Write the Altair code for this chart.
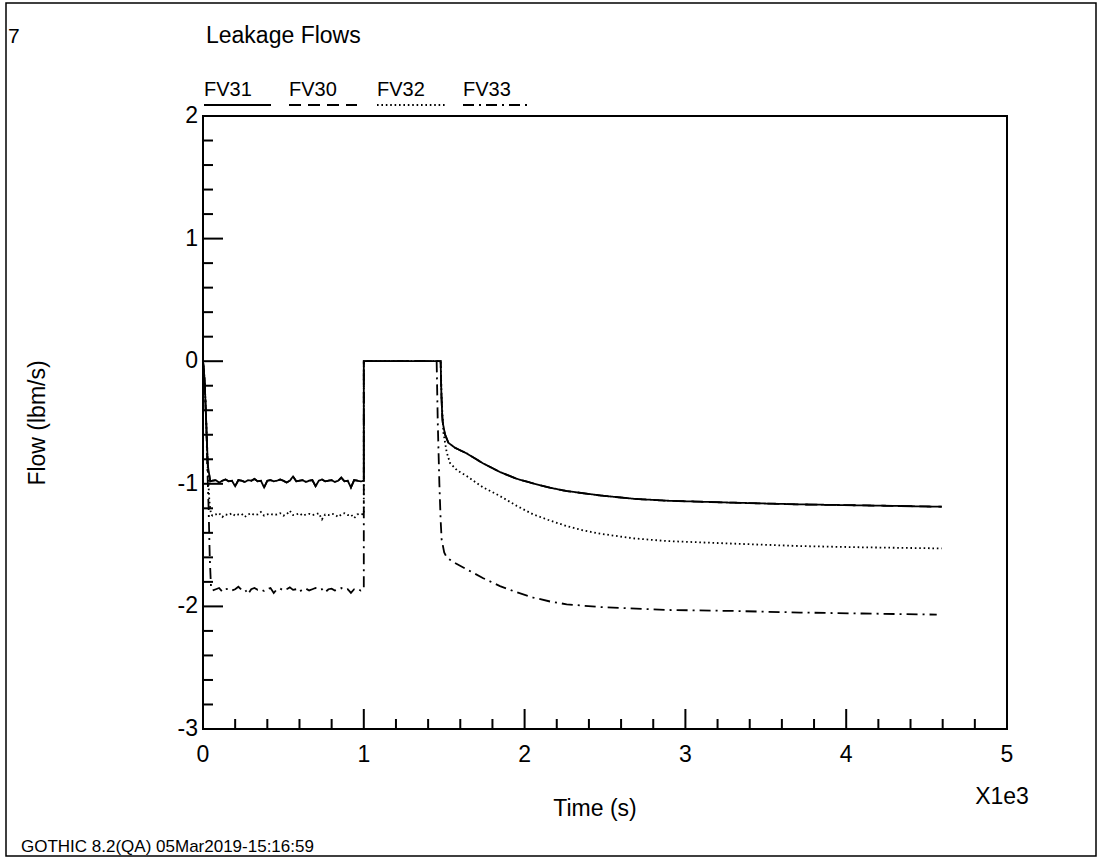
import altair as alt
import pandas as pd

# ---------------------------------------------------------------------------
# Leakage flows (lbm/s) versus time (s)
# ---------------------------------------------------------------------------
SERIES = ["FV31", "FV30", "FV32", "FV33"]

# initial drop after t = 0
FV31_START_T = [0, 10, 20, 30, 45]
FV31_START_V = [0.0, -0.15, -0.5, -0.85, -0.98]
FV32_START_T = [0, 10, 20, 30, 40, 50]
FV32_START_V = [0.0, -0.15, -0.5, -0.9, -1.15, -1.25]
FV33_START_T = [0, 10, 20, 30, 35, 42, 50]
FV33_START_V = [0.0, -0.15, -0.5, -1.0, -1.2, -1.6, -1.85]

# noisy plateau, 60 s .. 1000 s
PLATEAU_T = [60, 80, 100, 120, 140, 160, 180, 200, 220, 240,
             260, 280, 300, 320, 340, 360, 380, 400, 420, 440,
             460, 480, 500, 520, 540, 560, 580, 600, 620, 640,
             660, 680, 700, 720, 740, 760, 780, 800, 820, 840,
             860, 880, 900, 920, 940, 960, 980, 1000]
FV31_PLATEAU = [-0.975, -0.97, -0.99, -0.975, -0.965, -0.98, -0.975, -1.02, -0.97, -0.975,
                -0.985, -0.97, -0.975, -0.96, -0.98, -0.975, -1.03, -0.975, -0.97, -0.98,
                -0.975, -0.965, -0.975, -0.99, -0.975, -0.94, -0.98, -0.975, -0.97, -0.985,
                -0.975, -0.97, -1.02, -0.975, -0.965, -0.98, -0.975, -0.97, -0.985, -0.975,
                -0.95, -0.98, -0.975, -1.03, -0.97, -0.975, -0.98, -0.975]
FV32_PLATEAU = [-1.26, -1.25, -1.24, -1.27, -1.25, -1.255, -1.24, -1.26, -1.25, -1.245,
                -1.27, -1.25, -1.24, -1.255, -1.25, -1.23, -1.26, -1.25, -1.245, -1.255,
                -1.25, -1.24, -1.26, -1.25, -1.22, -1.255, -1.25, -1.24, -1.26, -1.25,
                -1.245, -1.255, -1.25, -1.24, -1.29, -1.25, -1.255, -1.245, -1.25, -1.27,
                -1.25, -1.24, -1.255, -1.25, -1.28, -1.25, -1.245, -1.25]
FV33_PLATEAU = [-1.87, -1.86, -1.85, -1.88, -1.86, -1.855, -1.87, -1.86, -1.84, -1.865,
                -1.86, -1.90, -1.86, -1.85, -1.865, -1.86, -1.875, -1.86, -1.85, -1.89,
                -1.86, -1.855, -1.87, -1.86, -1.845, -1.865, -1.86, -1.88, -1.86, -1.855,
                -1.87, -1.86, -1.85, -1.865, -1.86, -1.885, -1.86, -1.855, -1.87, -1.86,
                -1.85, -1.865, -1.86, -1.89, -1.86, -1.855, -1.87, -1.86]

# flow stops at 1000 s and resumes later
FV31_TAIL_T = [1000, 1478, 1482, 1488, 1491, 1505, 1526, 1567, 1609, 1640, 1743, 1847,
               1951, 2054, 2158, 2262, 2469, 2677, 2884, 3298, 3713, 4100, 4594]
FV31_TAIL_V = [0.0, 0.0, -0.25, -0.45, -0.5, -0.597, -0.665, -0.706, -0.733, -0.752, -0.834, -0.904,
               -0.959, -0.997, -1.032, -1.059, -1.095, -1.122, -1.138, -1.154, -1.168, -1.176, -1.187]
FV32_TAIL_T = [1000, 1478, 1484, 1495, 1515, 1536, 1580, 1640, 1743, 1847, 1951, 2054,
               2158, 2262, 2365, 2469, 2677, 2884, 3298, 3713, 4100, 4594]
FV32_TAIL_V = [0.0, 0.0, -0.3, -0.58, -0.74, -0.83, -0.89, -0.937, -1.03, -1.10, -1.18, -1.25,
               -1.30, -1.345, -1.38, -1.407, -1.445, -1.467, -1.488, -1.508, -1.518, -1.527]
FV33_TAIL_T = [1000, 1453, 1460, 1470, 1478, 1484, 1500, 1516, 1560, 1640, 1743, 1847,
               1951, 2054, 2158, 2262, 2469, 2884, 3298, 3713, 4100, 4563]
FV33_TAIL_V = [0.0, 0.0, -0.5, -1.0, -1.3, -1.453, -1.56, -1.602, -1.64, -1.698, -1.77, -1.834,
               -1.885, -1.928, -1.96, -1.983, -2.005, -2.029, -2.037, -2.05, -2.058, -2.067]

X_TICKS = [0, 1, 2, 3, 4, 5]
X_LABELS = ["0", "1", "2", "3", "4", "5"]
Y_TICKS = [2, 1, 0, -1, -2, -3]
Y_LABELS = ["2", "1", "0", "-1", "-2", "-3"]


def build(name, parts):
    rows = []
    for ts, vs in parts:
        for t, v in zip(ts, vs):
            rows.append({"series": name, "i": len(rows), "t": t, "v": v})
    return rows


rows = []
rows += build("FV31", [(FV31_START_T, FV31_START_V), (PLATEAU_T, FV31_PLATEAU), (FV31_TAIL_T, FV31_TAIL_V)])
# FV30 follows FV31 exactly and is hidden underneath it
rows += build("FV30", [(FV31_START_T, FV31_START_V), (PLATEAU_T, FV31_PLATEAU), (FV31_TAIL_T, FV31_TAIL_V)])
rows += build("FV32", [(FV32_START_T, FV32_START_V), (PLATEAU_T, FV32_PLATEAU), (FV32_TAIL_T, FV32_TAIL_V)])
rows += build("FV33", [(FV33_START_T, FV33_START_V), (PLATEAU_T, FV33_PLATEAU), (FV33_TAIL_T, FV33_TAIL_V)])
df = pd.DataFrame(rows)
df["tk"] = df["t"] / 1000.0

# ---------------------------------------------------------------------------
# layout
# ---------------------------------------------------------------------------
W, H = 804, 613
FONT = "Liberation Sans"
DASH = {"FV31": [1, 0], "FV30": [12, 7], "FV32": [1.6, 2.8], "FV33": [11, 5, 2, 5]}

x_scale = alt.Scale(domain=[0, 5], nice=False, zero=False)
y_scale = alt.Scale(domain=[-3, 2], nice=False, zero=False)
X = alt.X("tk:Q", scale=x_scale, axis=None)
Y = alt.Y("v:Q", scale=y_scale, axis=None)

layers = []
for name in ["FV30", "FV33", "FV32", "FV31"]:
    layers.append(
        alt.Chart(df[df["series"] == name])
        .mark_line(color="black", strokeWidth=1.8, strokeDash=DASH[name], clip=True, strokeJoin="miter")
        .encode(x=X, y=Y, order="i:Q")
    )

# inward ticks on the left and bottom axes
y_major = pd.DataFrame({"v": Y_TICKS})
y_minor = pd.DataFrame({"v": [k / 5 for k in range(-15, 11) if k % 5 != 0]})
x_major = pd.DataFrame({"tk": X_TICKS[1:-1]})
x_minor = pd.DataFrame({"tk": [k / 5 for k in range(0, 26) if k % 5 != 0]})

tick = dict(color="black", strokeWidth=2)
layers += [
    alt.Chart(y_major).mark_rule(**tick).encode(y=Y, x=alt.value(0), x2=alt.value(20)),
    alt.Chart(y_minor).mark_rule(**tick).encode(y=Y, x=alt.value(0), x2=alt.value(10)),
    alt.Chart(x_major).mark_rule(**tick).encode(x=X, y=alt.value(H), y2=alt.value(H - 20)),
    alt.Chart(x_minor).mark_rule(**tick).encode(x=X, y=alt.value(H), y2=alt.value(H - 10)),
]

# tick labels
layers += [
    alt.Chart(pd.DataFrame({"v": Y_TICKS, "lab": Y_LABELS}))
    .mark_text(font=FONT, fontSize=23, align="right", baseline="middle", color="black")
    .encode(y=Y, x=alt.value(-5), text="lab:N"),
    alt.Chart(pd.DataFrame({"tk": X_TICKS, "lab": X_LABELS}))
    .mark_text(font=FONT, fontSize=23, align="center", baseline="alphabetic", color="black")
    .encode(x=X, y=alt.value(646), text="lab:N"),
]


def label(text, x, y, size=23, align="left", angle=0, baseline="alphabetic"):
    props = dict(font=FONT, fontSize=size, align=align, baseline=baseline, color="black")
    if angle:
        props["angle"] = angle
    return (
        alt.Chart(pd.DataFrame({"s": [text]}))
        .mark_text(**props)
        .encode(x=alt.value(x), y=alt.value(y), text="s:N")
    )


layers += [
    label("7", -195, -73, size=21),
    label("Leakage Flows", 3, -73),
    label("Time (s)", 392, 700, align="center"),
    label("X1e3", 799, 688, align="center"),
    label("Flow (lbm/s)", -165, 307, align="center", angle=270, baseline="middle"),
    label("GOTHIC 8.2(QA) 05Mar2019-15:16:59", -182, 736, size=17),
]

# legend: name above a line sample
LEG_X = {"FV31": (1, 68), "FV30": (86, 154), "FV32": (174, 242), "FV33": (260, 326)}
for name in SERIES:
    x0, x1 = LEG_X[name]
    layers.append(label(name, x0, -20, size=20))
    layers.append(
        alt.Chart(pd.DataFrame({"s": [name]}))
        .mark_rule(color="black", strokeWidth=1.8, strokeDash=DASH[name])
        .encode(x=alt.value(x0), x2=alt.value(x1), y=alt.value(-11))
    )

# page border
layers.append(
    alt.Chart(pd.DataFrame({"s": ["frame"]}))
    .mark_rect(fill=None, stroke="black", strokeWidth=1.5)
    .encode(x=alt.value(-197), x2=alt.value(893), y=alt.value(-113), y2=alt.value(740))
)

chart = (
    alt.layer(*layers)
    .properties(
        width=W,
        height=H,
        autosize=alt.AutoSizeParams(type="none"),
        padding={"left": 203, "top": 116, "right": 91, "bottom": 128},
        background="white",
    )
    .configure_view(stroke="black", strokeWidth=2)
)

chart.save("out.html", embed_options={"renderer": "svg", "actions": False})
